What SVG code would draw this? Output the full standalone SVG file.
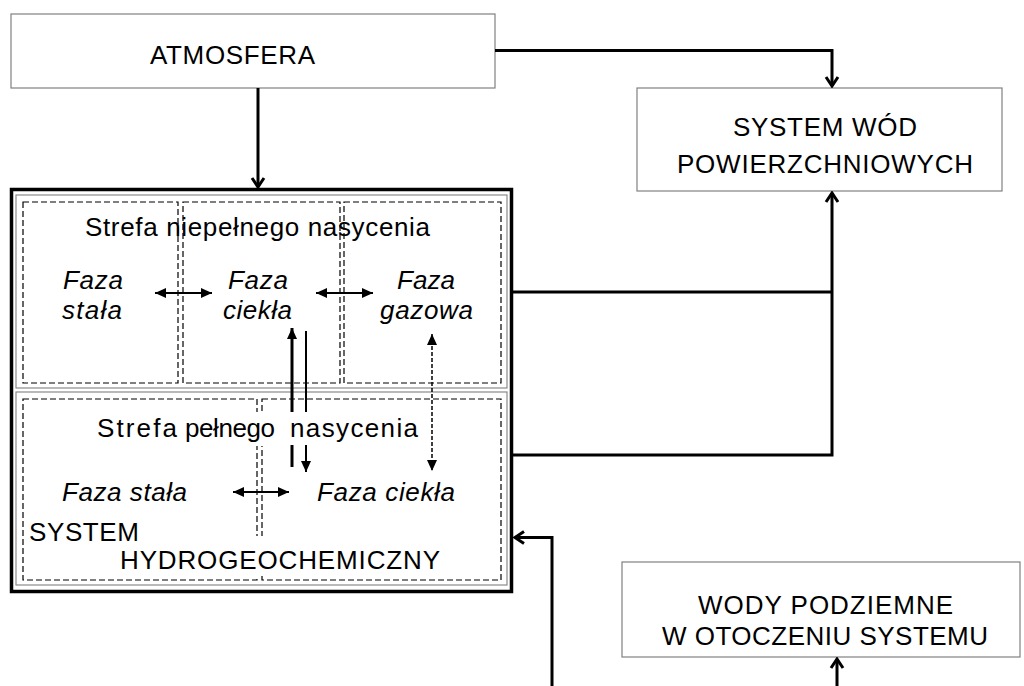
<svg xmlns="http://www.w3.org/2000/svg" width="1024" height="686" viewBox="0 0 1024 686">
<defs>
<style>
.box{fill:#fff;stroke:#808080;stroke-width:1.2}
.gray{fill:none;stroke:#8a8a8a;stroke-width:1.2}
.dash{fill:none;stroke:#000;stroke-width:1.2;stroke-dasharray:6,3}
.conn{fill:none;stroke:#000;stroke-width:3}
.inner{fill:none;stroke:#000;stroke-width:2}
.innerd{fill:none;stroke:#000;stroke-width:1.5;stroke-dasharray:4,2}
text{font-family:"Liberation Sans",Arial,sans-serif;font-size:26px;fill:#000}
.it{font-style:italic}
</style>
<marker id="chev" viewBox="-12 -8 14 16" markerWidth="14" markerHeight="16" refX="0" refY="0" orient="auto" markerUnits="userSpaceOnUse">
<path d="M-9,-6 L0,0 L-9,6" fill="none" stroke="#000" stroke-width="3"/>
</marker>
<marker id="tri" viewBox="-11 -5 12 10" markerWidth="12" markerHeight="10" refX="0" refY="0" orient="auto-start-reverse" markerUnits="userSpaceOnUse">
<path d="M-11,-5 L0,0 L-11,5 Z" fill="#000"/>
</marker>
</defs>
<rect width="1024" height="686" fill="#fff"/>

<g id="atmosfera">
<rect class="box" x="11" y="14" width="484" height="74"/>
<text x="150" y="64" textLength="165" lengthAdjust="spacing">ATMOSFERA</text>
</g>

<g id="system-wod-powierzchniowych">
<rect class="box" x="637" y="88" width="365" height="103"/>
<text x="733" y="136" textLength="184" lengthAdjust="spacing">SYSTEM WÓD</text>
<text x="677" y="173" textLength="296" lengthAdjust="spacing">POWIERZCHNIOWYCH</text>
</g>

<g id="wody-podziemne">
<rect class="box" x="622" y="562" width="398" height="95"/>
<text x="698" y="614" textLength="255" lengthAdjust="spacing">WODY PODZIEMNE</text>
<text x="662" y="645" textLength="326" lengthAdjust="spacing">W OTOCZENIU SYSTEMU</text>
</g>

<g id="system-hydrogeochemiczny">
<rect x="11.5" y="189.5" width="500" height="402" fill="#fff" stroke="#000" stroke-width="3.5"/>
<rect class="gray" x="16" y="195" width="491" height="193"/>
<rect class="gray" x="16" y="392" width="491" height="193"/>
</g>

<g id="strefa-niepelnego-nasycenia">
<rect class="dash" x="23" y="202" width="155" height="181"/>
<rect class="dash" x="183" y="202" width="157" height="181"/>
<rect class="dash" x="344" y="202" width="157" height="181"/>
<text x="85" y="236" textLength="345" lengthAdjust="spacing">Strefa niepełnego nasycenia</text>
<text class="it" x="63" y="289" textLength="60" lengthAdjust="spacing">Faza</text>
<text class="it" x="62" y="319" textLength="60" lengthAdjust="spacing">stała</text>
<text class="it" x="228" y="289" textLength="60" lengthAdjust="spacing">Faza</text>
<text class="it" x="223" y="319" textLength="69" lengthAdjust="spacing">ciekła</text>
<text class="it" x="397" y="289" textLength="58" lengthAdjust="spacing">Faza</text>
<text class="it" x="380" y="319" textLength="93" lengthAdjust="spacing">gazowa</text>
</g>

<g id="strefa-pelnego-nasycenia">
<rect class="dash" x="23" y="399" width="234" height="181"/>
<rect class="dash" x="262" y="399" width="239" height="181"/>
<rect x="252" y="412" width="14" height="34" fill="#fff"/>
<rect x="252" y="536" width="14" height="40" fill="#fff"/>
<text y="437"><tspan x="97" textLength="80" lengthAdjust="spacing">Strefa</tspan><tspan x="185" textLength="90" lengthAdjust="spacing">pełnego</tspan><tspan x="290" textLength="128" lengthAdjust="spacing">nasycenia</tspan></text>
<text class="it" x="62" y="501" textLength="125" lengthAdjust="spacing">Faza stała</text>
<text class="it" x="317" y="501" textLength="138" lengthAdjust="spacing">Faza ciekła</text>
<text x="29" y="541" textLength="110" lengthAdjust="spacing">SYSTEM</text>
<text x="120" y="569" textLength="320" lengthAdjust="spacing">HYDROGEOCHEMICZNY</text>
</g>

<g id="connectors">
<path class="conn" d="M258,88 V187" marker-end="url(#chev)"/>
<path class="conn" d="M495,50.5 H832 V86" marker-end="url(#chev)"/>
<path class="conn" d="M513,292 H832 M513,455 H832 V193" marker-end="url(#chev)"/>
<path class="conn" d="M552,686 V537.5 H515" marker-end="url(#chev)"/>
<path class="conn" d="M837,686 V659" marker-end="url(#chev)"/>
<path class="inner" d="M155,293 H212" marker-start="url(#tri)" marker-end="url(#tri)"/>
<path class="inner" d="M316,293 H373" marker-start="url(#tri)" marker-end="url(#tri)"/>
<path class="inner" d="M233,492 H289" marker-start="url(#tri)" marker-end="url(#tri)"/>
<path class="conn" d="M292,412 V328" marker-end="url(#tri)"/>
<path class="conn" d="M292,445 V467"/>
<path class="inner" d="M306,331 V412"/>
<path class="inner" d="M306,445 V472" marker-end="url(#tri)"/>
<path class="innerd" d="M432,334 V471" marker-start="url(#tri)" marker-end="url(#tri)"/>
</g>
</svg>
